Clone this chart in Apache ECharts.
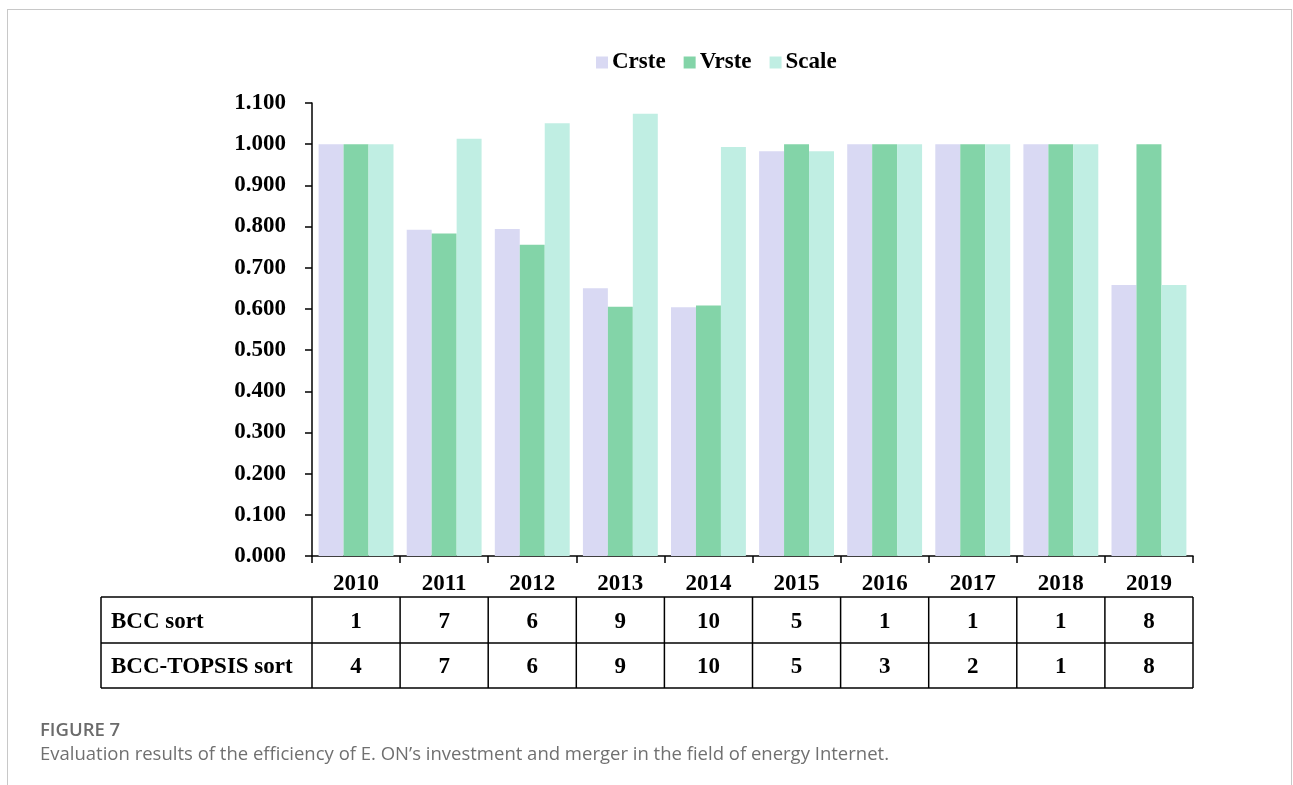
<!DOCTYPE html>
<html>
<head>
<meta charset="utf-8">
<script src="https://cdn.jsdelivr.net/npm/echarts@6/dist/echarts.min.js"></script>
<style>
  html, body { margin: 0; padding: 0; background: #fff; }
  #frame { position: absolute; left: 7px; top: 9px; width: 1285px; height: 800px; border: 1px solid #c8c8c8; border-bottom: none; box-sizing: border-box; }
  #main { position: absolute; left: 0; top: 0; width: 1293px; height: 785px; }
</style>
</head>
<body>
<div id="frame"></div>
<div id="main"></div>
<script>
const categories = ['2010', '2011', '2012', '2013', '2014', '2015', '2016', '2017', '2018', '2019'];
const crste = [1.000, 0.792, 0.794, 0.650, 0.604, 0.983, 1.000, 1.000, 1.000, 0.658];
const vrste = [1.000, 0.783, 0.756, 0.605, 0.608, 1.000, 1.000, 1.000, 1.000, 1.000];
const scale = [1.000, 1.013, 1.051, 1.074, 0.993, 0.983, 1.000, 1.000, 1.000, 0.658];
const bccSort = [1, 7, 6, 9, 10, 5, 1, 1, 1, 8];
const topsisSort = [4, 7, 6, 9, 10, 5, 3, 2, 1, 8];
const rowLabels = ['BCC sort', 'BCC-TOPSIS sort'];
const seriesNames = ['Crste', 'Vrste', 'Scale'];
const colors = ['#d9d9f3', '#83d4a8', '#c0eee3'];
const captionTitle = 'FIGURE 7';
const captionText = 'Evaluation results of the efficiency of E. ON\u2019s investment and merger in the field of energy Internet.';

const SERIF = '"Liberation Serif", "Times New Roman", serif';
const FS = 23;
const chart = echarts.init(document.getElementById('main'));

const option = {
  animation: false,
  color: colors,
  legend: {
    left: 591, top: 46,
    itemWidth: 12, itemHeight: 12, itemGap: 18,
    icon: 'rect',
    textStyle: { fontFamily: SERIF, fontWeight: 'bold', fontSize: FS, color: '#000', padding: [0, 0, 0, -1] },
    data: seriesNames
  },
  grid: { left: 312, right: 100, top: 103, bottom: 229, containLabel: false },
  xAxis: {
    type: 'category',
    data: categories,
    axisLine: { lineStyle: { color: '#000', width: 1.5 } },
    axisTick: { show: true, length: 7, lineStyle: { color: '#000', width: 1.5 } },
    axisLabel: { margin: 17, fontFamily: SERIF, fontWeight: 'bold', fontSize: FS, color: '#000' }
  },
  yAxis: {
    type: 'value',
    min: 0, max: 1.1, interval: 0.1,
    splitLine: { show: false },
    axisLine: { show: true, lineStyle: { color: '#000', width: 1.5 } },
    axisTick: { show: true, length: 7, lineStyle: { color: '#000', width: 1.5 } },
    axisLabel: { margin: 26, fontFamily: SERIF, fontWeight: 'bold', fontSize: FS, color: '#000',
      formatter: v => v.toFixed(3) }
  },
  series: [
    { name: seriesNames[0], type: 'bar', data: crste, barGap: '0%', barCategoryGap: '15%' },
    { name: seriesNames[1], type: 'bar', data: vrste, barGap: '0%', barCategoryGap: '15%' },
    { name: seriesNames[2], type: 'bar', data: scale, barGap: '0%', barCategoryGap: '15%' }
  ]
};
chart.setOption(option);

// Table under the axis, aligned through the category axis
const x0 = chart.convertToPixel({ xAxisIndex: 0 }, 0);
const x1 = chart.convertToPixel({ xAxisIndex: 0 }, 1);
const band = x1 - x0;
const tableLeft = 101;
const firstColRight = x0 - band / 2;
const tableRight = chart.convertToPixel({ xAxisIndex: 0 }, categories.length - 1) + band / 2;
const rowTops = [597, 643, 688];
const els = [];
const lineStyle = { stroke: '#000', lineWidth: 1.5 };
rowTops.forEach(y => els.push({ type: 'line', shape: { x1: tableLeft, y1: y, x2: tableRight, y2: y }, style: lineStyle }));
const vx = [tableLeft, firstColRight];
for (let i = 0; i < categories.length; i++) vx.push(firstColRight + band * (i + 1));
vx.forEach(x => els.push({ type: 'line', shape: { x1: x, y1: rowTops[0], x2: x, y2: rowTops[2] }, style: lineStyle }));
const rows = [bccSort, topsisSort];
rows.forEach((row, r) => {
  const cy = (rowTops[r] + rowTops[r + 1]) / 2 + 2;
  els.push({ type: 'text', x: tableLeft + 10, y: cy, style: { text: rowLabels[r], font: 'bold ' + FS + 'px ' + SERIF, fill: '#000', align: 'left', verticalAlign: 'middle' } });
  row.forEach((v, i) => {
    const cx = chart.convertToPixel({ xAxisIndex: 0 }, i);
    els.push({ type: 'text', x: cx, y: cy, style: { text: String(v), font: 'bold ' + FS + 'px ' + SERIF, fill: '#000', align: 'center', verticalAlign: 'middle' } });
  });
});
els.push({ type: 'text', x: 40, y: 731, style: { text: captionTitle, font: '600 18.5px "Open Sans", sans-serif', fill: '#6b6b6b', align: 'left', verticalAlign: 'middle' } });
els.push({ type: 'text', x: 40, y: 755, style: { text: captionText, font: '18.5px "Open Sans", sans-serif', fill: '#707070', align: 'left', verticalAlign: 'middle' } });
chart.setOption({ graphic: { elements: els } });
</script>
</body>
</html>
